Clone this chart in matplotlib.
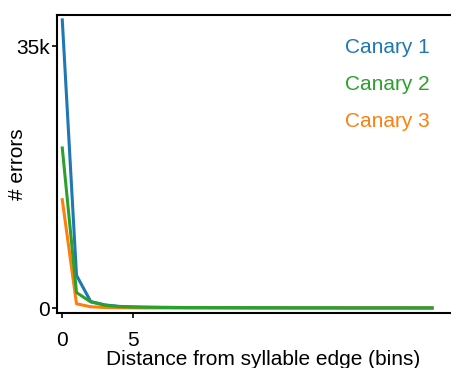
import numpy as np
import matplotlib.pyplot as plt

plt.rcParams['font.family'] = ['Liberation Sans', 'DejaVu Sans']
plt.rcParams['font.size'] = 15

# ======================= data (errors, thousands) ======================= #
bins = np.arange(27)
canary_1 = [38.5, 4.4, 0.9, 0.45, 0.25, 0.18, 0.14, 0.12, 0.11, 0.10, 0.09, 0.09, 0.08,
            0.08, 0.07, 0.07, 0.07, 0.06, 0.06, 0.06, 0.05, 0.05, 0.05, 0.05, 0.05, 0.04, 0.04]
canary_2 = [21.4, 2.1, 0.85, 0.4, 0.22, 0.16, 0.13, 0.11, 0.10, 0.09, 0.09, 0.08, 0.08,
            0.07, 0.07, 0.07, 0.06, 0.06, 0.06, 0.06, 0.05, 0.05, 0.05, 0.05, 0.05, 0.05, 0.05]
canary_3 = [14.5, 0.6, 0.2, 0.1, 0.07, 0.05, 0.04, 0.04, 0.03, 0.03, 0.03, 0.03, 0.03,
            0.02, 0.02, 0.02, 0.02, 0.02, 0.02, 0.02, 0.02, 0.02, 0.02, 0.02, 0.02, 0.02, 0.02]
series = [("Canary 1", canary_1, "#1f77b4", 1),
          ("Canary 2", canary_2, "#2ca02c", 3),
          ("Canary 3", canary_3, "#ff7f0e", 2)]

fig = plt.figure(figsize=(4.51, 3.68), dpi=100)
ax_w = 1.04 - 0.1264
ax = fig.add_axes([0.1264, 0.1495, ax_w, 0.959 - 0.1495])

for name, vals, col, z in series:
    ax.plot(bins, np.array(vals) * 1000, color=col, lw=2.2, label=name, zorder=z)

ax.set_xlim(-0.37, 28.6)
ax.set_ylim(-630, 39140)
ax.set_xticks([0, 5])
ax.set_yticks([0, 35000])
ax.set_yticklabels(["0", "35k"])
ax.tick_params(axis='x', length=3.5, width=1.2, pad=9.5)
ax.tick_params(axis='y', length=3.5, width=1.2, pad=1.5)
for s in ax.spines.values():
    s.set_linewidth(1.5)

ax.set_xlabel("Distance from syllable edge (bins)", labelpad=0)
ax.set_ylabel("# errors")
ax.yaxis.set_label_coords(-30 / (ax_w * 451), 0.5)

leg = ax.legend(frameon=False, handlelength=0, handletextpad=0,
                labelcolor='linecolor', loc='upper right',
                bbox_to_anchor=(438 / 451, 1 - 30 / 368),
                bbox_transform=fig.transFigure, borderaxespad=0, labelspacing=0.85)
for h in leg.legend_handles:
    h.set_visible(False)

fig.savefig("out.png", dpi=100)
